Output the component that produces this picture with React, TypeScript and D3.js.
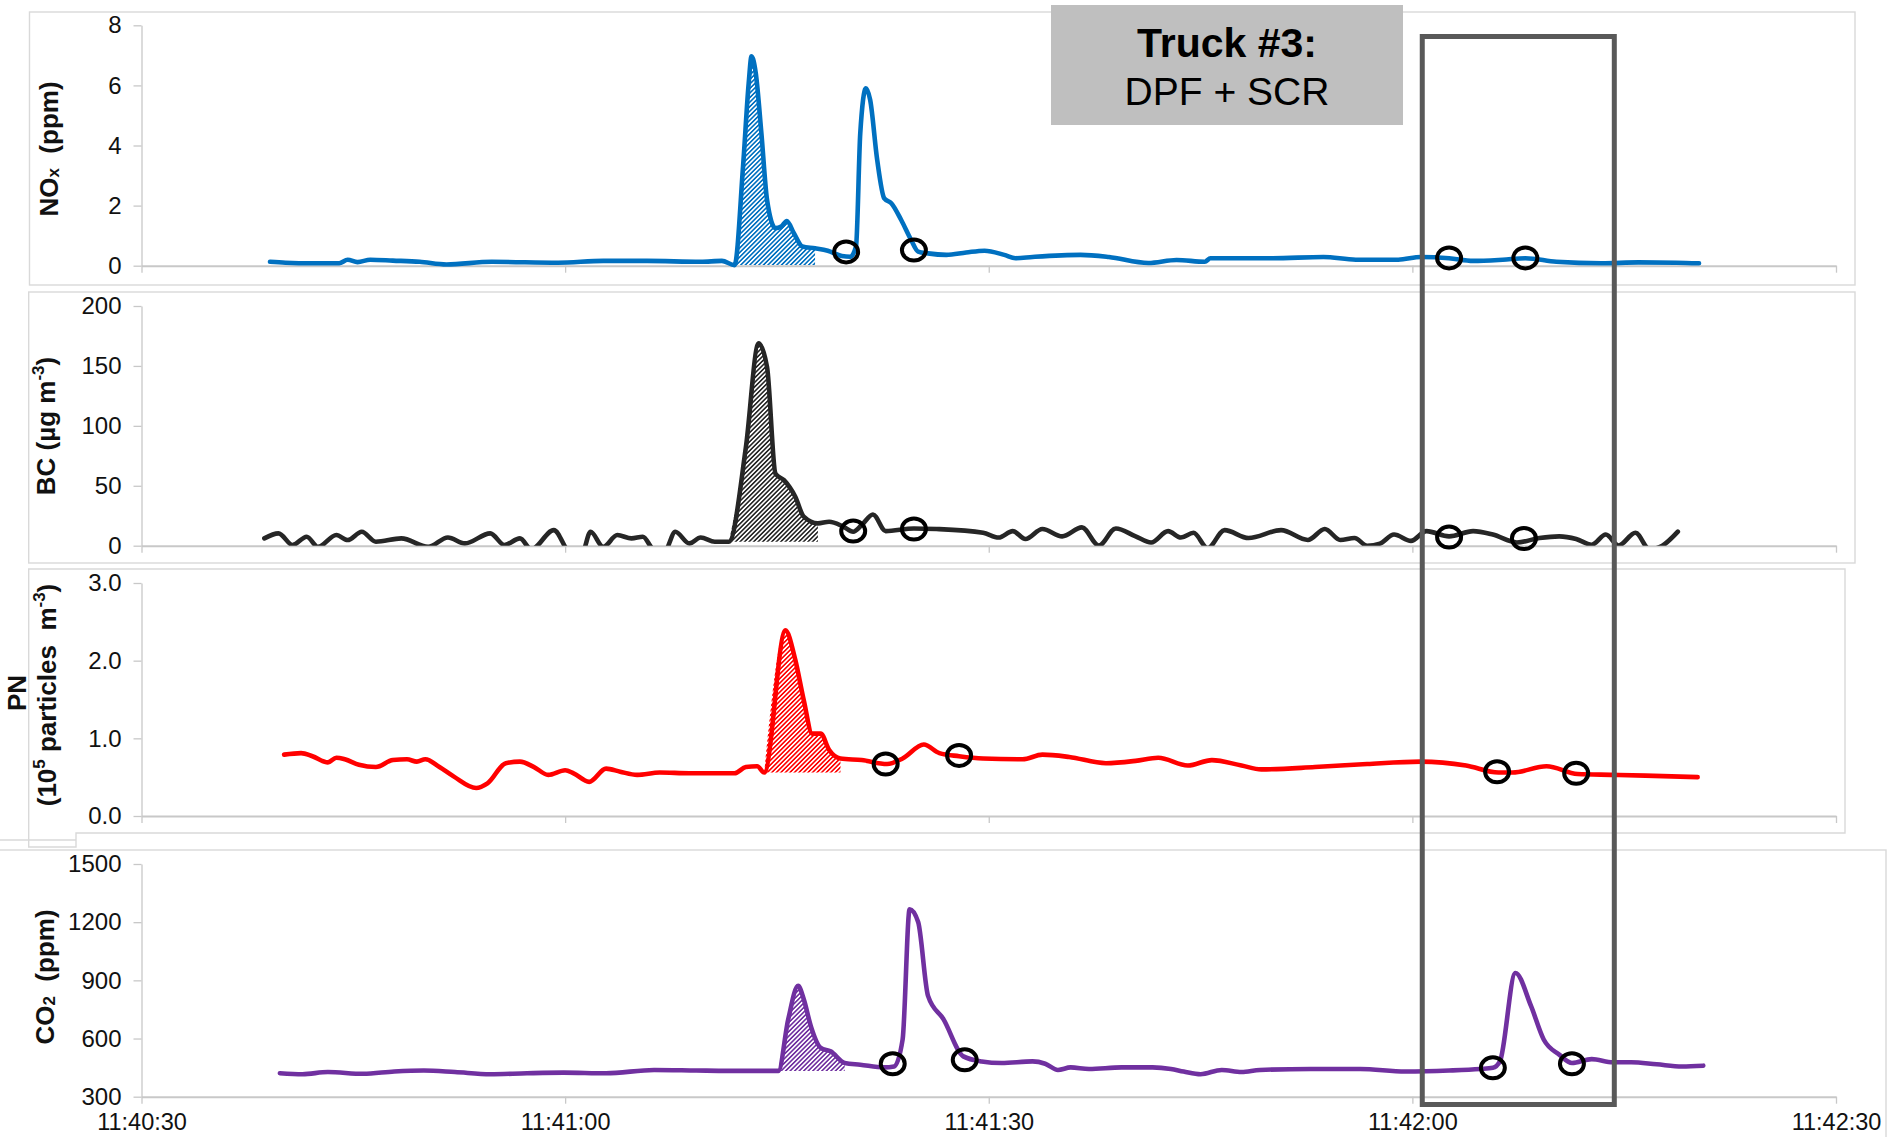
import { useEffect, useRef } from "react";
import * as d3 from "d3";

// time in seconds after 11:40:30, value
type Pt = [number, number];

const START = new Date(2014, 0, 1, 11, 40, 30);
const X_TICKS = [0, 30, 60, 90, 120];

const NOX: Pt[] = [
  [9.1, 0.13], [10.2, 0.1], [12.1, 0.08], [14.0, 0.08], [14.6, 0.2], [15.3, 0.12], [16.2, 0.2],
  [17.8, 0.17], [19.7, 0.13], [21.6, 0.04], [24.8, 0.13], [29.5, 0.1], [32.7, 0.16], [35.8, 0.16],
  [39.6, 0.13], [41.1, 0.16], [42.0, 0.02], [42.6, 3.3], [43.0, 6.07], [43.2, 6.97], [43.5, 6.41],
  [43.9, 4.4], [44.3, 2.19], [44.9, 1.25], [45.3, 1.3], [45.7, 1.49], [46.2, 1.08], [46.8, 0.64],
  [47.7, 0.58], [48.6, 0.5], [49.6, 0.32], [50.2, 0.3], [50.6, 0.64], [50.9, 4.4], [51.3, 5.9],
  [51.6, 5.52], [52.1, 3.52], [52.6, 2.24], [53.1, 2.08], [53.8, 1.52], [54.5, 0.86], [55.0, 0.47],
  [55.7, 0.41], [57.0, 0.36], [58.4, 0.44], [59.7, 0.5], [61.1, 0.36], [61.9, 0.25], [63.1, 0.29],
  [66.5, 0.36], [68.5, 0.29], [71.3, 0.09], [73.3, 0.19], [75.3, 0.13], [75.7, 0.25], [80.1, 0.25],
  [83.7, 0.29], [86.0, 0.2], [89.0, 0.2], [90.6, 0.29], [92.6, 0.25], [94.3, 0.16], [96.4, 0.2],
  [98.0, 0.25], [100.2, 0.13], [103.4, 0.08], [106.0, 0.11], [108.7, 0.1], [110.3, 0.08],
];

const BC: Pt[] = [
  [8.7, 6.1], [9.7, 10.3], [10.7, 0.6], [11.7, 7.5], [12.5, -1], [13.8, 8.9], [14.6, 4.7],
  [15.6, 11.6], [16.6, 3.3], [18.4, 6.1], [20.3, -1], [21.7, 6.9], [22.9, 1.9], [24.7, 10.3],
  [25.7, 0.6], [26.8, 6.1], [27.6, -3], [29.2, 13], [30.4, -6], [31.2, -6], [31.8, 11.6],
  [32.7, -1], [33.7, 8.9], [34.7, 6.1], [35.5, 7.5], [36.3, -3], [37.1, -3], [37.8, 11.6],
  [38.8, 1.9], [39.6, 6.9], [40.6, 3.3], [41.6, 3.3], [42.8, 82], [43.7, 168.8], [44.3, 149],
  [44.9, 60], [45.5, 54.7], [46.3, 40.8], [46.9, 24.2], [47.9, 18.6], [48.7, 20], [49.7, 15.9],
  [50.4, 11.7], [51.0, 17.2], [51.8, 26], [52.7, 12.2], [54.7, 14.4], [56.3, 13.9], [59.6, 10.8],
  [60.7, 6.8], [61.7, 12.2], [62.6, 5.6], [63.8, 13.9], [65.2, 7.8], [66.6, 15.3], [67.8, 0.2],
  [69.0, 14.4], [70.4, 7.8], [71.5, 2.7], [72.7, 12.2], [73.6, 6.8], [74.5, 10.8], [75.5, -2],
  [76.7, 13], [78.4, 6.4], [80.7, 13], [82.6, 4.8], [83.8, 13.9], [84.9, 4.8], [85.9, 6.4],
  [86.8, 0], [87.7, 1.7], [88.7, 9.3], [89.9, 4], [91.0, 12.2], [92.6, 7.8], [94.3, 12.2],
  [95.7, 9.3], [97.4, 2.7], [99.0, 6.4], [100.4, 7.8], [101.6, 5.6], [102.7, 0.8], [103.7, 9.3],
  [104.6, 0.2], [105.8, 10.8], [106.8, -3], [107.7, 0], [108.8, 11.7],
];

const PN: Pt[] = [
  [10.1, 0.79], [11.3, 0.81], [12.1, 0.77], [13.2, 0.69], [13.8, 0.75], [14.4, 0.73], [15.4, 0.66],
  [16.6, 0.63], [17.8, 0.72], [18.8, 0.73], [19.5, 0.7], [20.1, 0.73], [21.1, 0.63], [22.1, 0.51],
  [23.7, 0.36], [24.5, 0.42], [25.8, 0.68], [26.8, 0.7], [27.8, 0.63], [28.8, 0.53], [30.0, 0.59],
  [30.6, 0.55], [31.7, 0.44], [32.9, 0.61], [33.9, 0.57], [35.1, 0.53], [36.7, 0.56], [38.8, 0.55],
  [42.0, 0.55], [42.8, 0.63], [43.6, 0.64], [44.1, 0.56], [45.6, 2.39], [46.3, 2.01], [46.9, 1.49],
  [47.5, 1.06], [48.1, 1.06], [48.7, 0.85], [49.5, 0.74], [51.0, 0.72], [52.8, 0.67], [53.9, 0.74],
  [55.4, 0.92], [56.5, 0.81], [57.9, 0.77], [59.6, 0.74], [62.4, 0.73], [63.8, 0.79], [65.7, 0.76],
  [68.3, 0.68], [70.4, 0.71], [72.0, 0.75], [74.1, 0.65], [75.8, 0.72], [77.9, 0.65], [79.3, 0.6],
  [83.1, 0.63], [86.8, 0.67], [90.6, 0.7], [93.8, 0.65], [96.1, 0.56], [97.1, 0.56], [99.5, 0.64],
  [101.7, 0.54], [104.2, 0.53], [106.5, 0.52], [110.2, 0.5],
];

const CO2: Pt[] = [
  [9.8, 421], [11.4, 416], [13.2, 427], [15.7, 418], [17.9, 430], [20.0, 435], [22.2, 427],
  [24.7, 416], [27.3, 421], [29.9, 424], [32.9, 421], [36.3, 438], [39.3, 435], [41.5, 433],
  [45.1, 433], [45.8, 699], [46.5, 872], [46.9, 803], [47.4, 664], [48.1, 552], [48.8, 534],
  [49.8, 474], [50.9, 465], [52.6, 451], [53.3, 456], [53.9, 595], [54.4, 1267], [55.0, 1201],
  [55.7, 820], [56.8, 699], [58.2, 508], [59.5, 482], [60.9, 474], [63.1, 482], [64.0, 470],
  [64.9, 438], [65.8, 451], [67.1, 443], [69.4, 451], [71.6, 451], [72.9, 443], [73.8, 430],
  [75.0, 416], [76.5, 438], [77.9, 427], [79.2, 438], [82.8, 443], [86.3, 443], [89.5, 430],
  [92.6, 435], [94.8, 443], [95.7, 449], [96.2, 482], [97.3, 938], [98.4, 768], [99.3, 595],
  [100.4, 517], [101.3, 474], [102.7, 494], [104.2, 478], [105.5, 478], [107.3, 467], [109.1, 456],
  [110.6, 460],
];

// hatched (integrated) peak windows, seconds
const NOX_PEAK = [42.0, 47.7];
const BC_PEAK = [41.6, 47.9];
const PN_PEAK = [44.1, 49.5];
const CO2_PEAK = [45.1, 49.8];

// circled start / end points of each plume
const NOX_MARKS: Pt[] = [[49.9, 0.46], [54.7, 0.52], [92.6, 0.26], [98.0, 0.26]];
const BC_MARKS: Pt[] = [[50.4, 12.2], [54.7, 13.9], [92.6, 7.2], [97.9, 6]];
const PN_MARKS: Pt[] = [[52.7, 0.67], [57.9, 0.78], [96.0, 0.57], [101.6, 0.55]];
const CO2_MARKS: Pt[] = [[53.2, 470], [58.3, 490], [95.7, 449], [101.3, 470]];

const HIGHLIGHT = [90.7, 104.3];

const NOX_TICKS = [0, 2, 4, 6, 8];
const BC_TICKS = [0, 50, 100, 150, 200];
const PN_TICKS = [0, 1, 2, 3];
const CO2_TICKS = [300, 600, 900, 1200, 1500];

const FONT = "'Liberation Sans', Arial, Helvetica, sans-serif";

const toDate = (s: number) => new Date(START.getTime() + s * 1000);

function App() {
  const svgRef = useRef<SVGSVGElement>(null);

  useEffect(() => {
    const width = 1889;
    const height = 1137;
    const svg = d3.select(svgRef.current).attr("width", width).attr("height", height);
    svg.selectAll("*").remove();
    svg.append("rect").attr("width", width).attr("height", height).attr("fill", "#fff");

    const x = d3
      .scaleTime()
      .domain([toDate(0), toDate(120)])
      .range([141.5, 1836]);

    const panels = [
      { id: "nox", data: NOX, color: "#0070c0", ticks: NOX_TICKS, fmt: d3.format("d"), range: [265.7, 25.3], peak: NOX_PEAK, marks: NOX_MARKS, frame: [29.5, 12, 1855, 285], clip: false },
      { id: "bc", data: BC, color: "#262626", ticks: BC_TICKS, fmt: d3.format("d"), range: [545.7, 306], peak: BC_PEAK, marks: BC_MARKS, frame: [28.7, 292, 1855, 563], clip: true },
      { id: "pn", data: PN, color: "#ff0000", ticks: PN_TICKS, fmt: d3.format(".1f"), range: [816, 583], peak: PN_PEAK, marks: PN_MARKS, frame: [28.7, 569, 1845, 833], clip: false },
      { id: "co2", data: CO2, color: "#7030a0", ticks: CO2_TICKS, fmt: d3.format("d"), range: [1096.7, 864], peak: CO2_PEAK, marks: CO2_MARKS, frame: [-2, 850, 1886, 1150], clip: false },
    ];

    const defs = svg.append("defs");

    // panel frames
    panels.forEach((p, i) => {
      const [x0, y0, x1, y1] = p.frame;
      if (i === 2) {
        svg.append("path")
          .attr("d", `M${x0},${y0}H${x1}V${y1}H76V847H${x0}Z`)
          .attr("fill", "none").attr("stroke", "#d9d9d9").attr("stroke-width", 1.4);
        svg.append("path").attr("d", "M0,840H76").attr("stroke", "#d9d9d9").attr("stroke-width", 1.4);
      } else {
        svg.append("rect")
          .attr("x", x0).attr("y", y0).attr("width", x1 - x0).attr("height", y1 - y0)
          .attr("fill", "none").attr("stroke", "#d9d9d9").attr("stroke-width", 1.4);
      }
    });

    panels.forEach((p, i) => {
      const y = d3
        .scaleLinear()
        .domain(d3.extent(p.ticks) as [number, number])
        .range(p.range);

      const g = svg.append("g");

      // x axis
      const xAxis = d3
        .axisBottom(x)
        .tickValues(X_TICKS.map(toDate))
        .tickSize(7)
        .tickSizeOuter(0)
        .tickPadding(10)
        .tickFormat((d) => (i === 3 ? d3.timeFormat("%H:%M:%S")(d as Date) : ""));
      const gx = g.append("g").attr("transform", `translate(0,${p.range[0]})`).call(xAxis);
      gx.select(".domain").attr("stroke", "#c8c8c8").attr("stroke-width", 2);
      gx.selectAll(".tick line").attr("stroke", "#c8c8c8").attr("stroke-width", 1.3);
      gx.selectAll("text").attr("font-size", 23.5).attr("font-family", FONT).attr("fill", "#111");

      // y axis
      const yAxis = d3
        .axisLeft(y)
        .tickValues(p.ticks)
        .tickSize(8)
        .tickSizeOuter(0)
        .tickPadding(12)
        .tickFormat((d) => p.fmt(d as number));
      const gy = g.append("g").attr("transform", `translate(${x.range()[0]},0)`).call(yAxis);
      gy.select(".domain").attr("stroke", "#c8c8c8").attr("stroke-width", 1.3);
      gy.selectAll(".tick line").attr("stroke", "#c8c8c8").attr("stroke-width", 1.3);
      gy.selectAll("text").attr("font-size", 24).attr("font-family", FONT).attr("fill", "#111");

      // hatch pattern
      const pat = defs.append("pattern")
        .attr("id", `hatch-${p.id}`)
        .attr("patternUnits", "userSpaceOnUse")
        .attr("width", 3.2).attr("height", 3.2)
        .attr("patternTransform", "rotate(45)");
      pat.append("rect").attr("width", 3.2).attr("height", 3.2).attr("fill", "#fff");
      pat.append("line").attr("x1", 0.8).attr("y1", 0).attr("x2", 0.8).attr("y2", 3.2)
        .attr("stroke", p.color).attr("stroke-width", 1.6);

      const peakPts = p.data.filter((d) => d[0] >= p.peak[0] && d[0] <= p.peak[1]);
      const base = peakPts[0][1];
      const area = d3
        .area<Pt>()
        .x((d) => x(toDate(d[0])))
        .y0(y(base))
        .y1((d) => y(d[1]))
        .curve(d3.curveMonotoneX);
      g.append("path").datum(peakPts).attr("d", area).attr("fill", `url(#hatch-${p.id})`);

      if (p.clip) {
        defs.append("clipPath").attr("id", `clip-${p.id}`)
          .append("rect")
          .attr("x", x.range()[0]).attr("y", p.range[1] - 20)
          .attr("width", x.range()[1] - x.range()[0]).attr("height", p.range[0] - p.range[1] + 20);
      }

      const line = d3
        .line<Pt>()
        .x((d) => x(toDate(d[0])))
        .y((d) => y(d[1]))
        .curve(d3.curveMonotoneX);
      g.append("path")
        .datum(p.data)
        .attr("d", line)
        .attr("fill", "none")
        .attr("stroke", p.color)
        .attr("stroke-width", 4.6)
        .attr("stroke-linejoin", "round")
        .attr("stroke-linecap", "round")
        .attr("clip-path", p.clip ? `url(#clip-${p.id})` : null);

      g.selectAll(".mark")
        .data(p.marks)
        .join("ellipse")
        .attr("cx", (d) => x(toDate(d[0])))
        .attr("cy", (d) => y(d[1]))
        .attr("rx", 12)
        .attr("ry", 10.5)
        .attr("fill", "none")
        .attr("stroke", "#000")
        .attr("stroke-width", 4);
    });

    // axis titles
    const title = (cx: number, cy: number, parts: [string, string][]) => {
      const t = svg.append("text")
        .attr("transform", `translate(${cx},${cy}) rotate(-90)`)
        .attr("text-anchor", "middle")
        .attr("dominant-baseline", "central")
        .attr("font-family", FONT)
        .attr("font-weight", "bold")
        .attr("font-size", 26)
        .attr("fill", "#111")
        .style("white-space", "pre");
      parts.forEach(([s, kind]) => {
        const ts = t.append("tspan").text(s);
        if (kind === "sub") ts.attr("font-size", 17).attr("baseline-shift", "-25%");
        if (kind === "sup") ts.attr("font-size", 17).attr("baseline-shift", "45%");
      });
    };
    title(49, 149, [["NO", ""], ["x", "sub"], ["  (ppm)", ""]]);
    title(46, 426, [["BC (µg m", ""], ["-3", "sup"], [")", ""]]);
    title(17, 693, [["PN", ""]]);
    title(47, 695, [["(10", ""], ["5", "sup"], [" particles  m", ""], ["-3", "sup"], [")", ""]]);
    title(45, 977, [["CO", ""], ["2", "sub"], ["  (ppm)", ""]]);

    // highlighted window
    svg.append("rect")
      .attr("x", x(toDate(HIGHLIGHT[0])))
      .attr("y", 36.5)
      .attr("width", x(toDate(HIGHLIGHT[1])) - x(toDate(HIGHLIGHT[0])))
      .attr("height", 1104.5 - 36.5)
      .attr("fill", "none")
      .attr("stroke", "#595959")
      .attr("stroke-width", 5);

    // label box
    svg.append("rect")
      .attr("x", 1051).attr("y", 5).attr("width", 352).attr("height", 120)
      .attr("fill", "#bfbfbf");
    svg.append("text")
      .attr("x", 1227).attr("y", 57)
      .attr("text-anchor", "middle")
      .attr("font-family", FONT).attr("font-weight", "bold").attr("font-size", 41)
      .attr("fill", "#000")
      .text("Truck #3:");
    svg.append("text")
      .attr("x", 1227).attr("y", 105)
      .attr("text-anchor", "middle")
      .attr("font-family", FONT).attr("font-size", 39)
      .attr("fill", "#000")
      .text("DPF + SCR");
  }, []);

  return (
    <svg
      ref={svgRef}
      style={{ position: "absolute", left: 0, top: 0, display: "block" }}
    ></svg>
  );
}

export default App;
